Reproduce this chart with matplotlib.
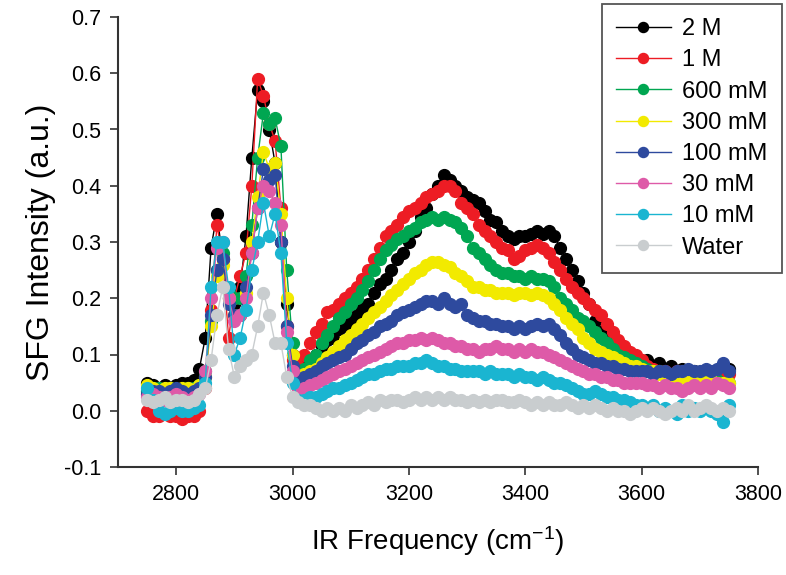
import numpy as np
import matplotlib
matplotlib.use("Agg")
import matplotlib.pyplot as plt
from matplotlib.ticker import FormatStrFormatter

plt.rcParams['font.family'] = ['Liberation Sans', 'DejaVu Sans']
plt.rcParams['mathtext.fontset'] = 'custom'
plt.rcParams['mathtext.rm'] = 'Liberation Sans'
plt.rcParams['mathtext.default'] = 'regular'
plt.rcParams['axes.unicode_minus'] = False

# IR frequency grid (cm-1), 10 cm-1 steps from 2750 to 3750
freq = np.arange(2750, 3751, 10)

# SFG intensities, 101 points each
y_2M = [
    0.05, 0.045, 0.04, 0.045, 0.04, 0.045, 0.05, 0.05, 0.055, 0.075,
    0.13, 0.29, 0.35, 0.27, 0.20, 0.19,
    0.22, 0.31, 0.45, 0.57, 0.55, 0.50, 0.44, 0.30, 0.19, 0.10,
    0.07, 0.08, 0.09, 0.10, 0.115, 0.125, 0.13, 0.145, 0.15, 0.16,
    0.17, 0.185, 0.19, 0.21, 0.225, 0.235, 0.25, 0.27, 0.28, 0.30,
    0.32, 0.345, 0.36, 0.385, 0.40, 0.42, 0.41, 0.40, 0.39, 0.38,
    0.375, 0.37, 0.355, 0.34, 0.335, 0.32, 0.31, 0.305, 0.31, 0.31,
    0.315, 0.32, 0.315, 0.32, 0.31, 0.29, 0.27, 0.25, 0.23, 0.21,
    0.19, 0.16, 0.14, 0.13, 0.12, 0.11, 0.10, 0.095, 0.09, 0.085,
    0.09, 0.08, 0.085, 0.075, 0.08, 0.07, 0.075, 0.07, 0.07, 0.065,
    0.07, 0.065, 0.07, 0.08, 0.075,
]
y_1M = [
    0.0, -0.01, -0.01, -0.005, -0.01, -0.01, -0.015, -0.01, -0.01, 0.0,
    0.04, 0.18, 0.33, 0.27, 0.13, 0.20,
    0.24, 0.28, 0.40, 0.59, 0.56, 0.51, 0.48, 0.36, 0.15, 0.09,
    0.08, 0.10, 0.12, 0.14, 0.155, 0.175, 0.18, 0.19, 0.20, 0.21,
    0.22, 0.235, 0.25, 0.27, 0.29, 0.31, 0.32, 0.33, 0.345, 0.355,
    0.36, 0.37, 0.38, 0.385, 0.39, 0.40, 0.40, 0.39, 0.37, 0.36,
    0.35, 0.33, 0.32, 0.31, 0.30, 0.29, 0.285, 0.27, 0.275, 0.285,
    0.29, 0.295, 0.29, 0.28, 0.265, 0.25, 0.235, 0.22, 0.21, 0.20,
    0.19, 0.18, 0.17, 0.155, 0.14, 0.125, 0.115, 0.105, 0.10, 0.09,
    0.08, 0.075, 0.07, 0.07, 0.065, 0.07, 0.065, 0.06, 0.065, 0.06,
    0.06, 0.055, 0.06, 0.06, 0.065,
]
y_600mM = [
    0.035, 0.04, 0.04, 0.035, 0.04, 0.035, 0.035, 0.04, 0.04, 0.045,
    0.07, 0.16, 0.25, 0.28, 0.21, 0.20,
    0.20, 0.24, 0.33, 0.45, 0.53, 0.51, 0.52, 0.47, 0.25, 0.12,
    0.06, 0.075, 0.09, 0.10, 0.12, 0.135, 0.15, 0.165, 0.175, 0.19,
    0.20, 0.215, 0.23, 0.25, 0.27, 0.285, 0.295, 0.305, 0.31, 0.32,
    0.325, 0.335, 0.34, 0.345, 0.34, 0.345, 0.34, 0.335, 0.325, 0.31,
    0.29, 0.28, 0.27, 0.26, 0.25, 0.245, 0.245, 0.24, 0.24, 0.235,
    0.24, 0.235, 0.235, 0.23, 0.22, 0.20, 0.19, 0.18, 0.165, 0.16,
    0.15, 0.14, 0.13, 0.12, 0.11, 0.10, 0.095, 0.09, 0.085, 0.08,
    0.075, 0.07, 0.07, 0.065, 0.065, 0.06, 0.06, 0.055, 0.06, 0.055,
    0.055, 0.05, 0.055, 0.05, 0.05,
]
y_300mM = [
    0.045, 0.04, 0.035, 0.04, 0.04, 0.035, 0.04, 0.04, 0.035, 0.045,
    0.06, 0.15, 0.24, 0.26, 0.20, 0.17,
    0.17, 0.21, 0.30, 0.38, 0.46, 0.43, 0.44, 0.35, 0.20, 0.10,
    0.06, 0.065, 0.07, 0.075, 0.085, 0.095, 0.105, 0.115, 0.125, 0.135,
    0.145, 0.155, 0.165, 0.175, 0.185, 0.195, 0.205, 0.215, 0.225, 0.235,
    0.245, 0.25, 0.26, 0.265, 0.265, 0.26, 0.255, 0.245, 0.24, 0.23,
    0.22, 0.22, 0.215, 0.215, 0.21, 0.21, 0.21, 0.205, 0.21, 0.21,
    0.205, 0.21, 0.205, 0.20, 0.19, 0.18, 0.165, 0.155, 0.145, 0.13,
    0.12, 0.11, 0.105, 0.10, 0.095, 0.09, 0.085, 0.08, 0.08, 0.075,
    0.07, 0.07, 0.065, 0.065, 0.06, 0.06, 0.06, 0.055, 0.055, 0.055,
    0.05, 0.055, 0.05, 0.05, 0.05,
]
y_100mM = [
    0.03, 0.035, 0.035, 0.03, 0.035, 0.04, 0.035, 0.03, 0.035, 0.04,
    0.06, 0.17, 0.25, 0.27, 0.19, 0.17,
    0.17, 0.22, 0.28, 0.36, 0.43, 0.41, 0.42, 0.30, 0.15, 0.08,
    0.055, 0.06, 0.065, 0.07, 0.08, 0.085, 0.09, 0.095, 0.10, 0.11,
    0.12, 0.125, 0.135, 0.14, 0.15, 0.155, 0.16, 0.17, 0.175, 0.18,
    0.185, 0.19, 0.195, 0.195, 0.19, 0.20, 0.19, 0.185, 0.19, 0.17,
    0.165, 0.16, 0.16, 0.155, 0.155, 0.15, 0.15, 0.145, 0.15, 0.145,
    0.15, 0.155, 0.15, 0.155, 0.145, 0.135, 0.12, 0.11, 0.10, 0.095,
    0.09, 0.085, 0.085, 0.08, 0.08, 0.075, 0.075, 0.07, 0.07, 0.07,
    0.07, 0.065, 0.07, 0.07, 0.065, 0.07, 0.07, 0.075, 0.07, 0.07,
    0.075, 0.07, 0.075, 0.085, 0.07,
]
y_30mM = [
    0.025, 0.03, 0.025, 0.02, 0.025, 0.03, 0.025, 0.02, 0.025, 0.03,
    0.07, 0.20, 0.29, 0.30, 0.20, 0.16,
    0.17, 0.20, 0.28, 0.36, 0.40, 0.39, 0.37, 0.33, 0.14, 0.07,
    0.035, 0.04, 0.045, 0.05, 0.055, 0.06, 0.065, 0.07, 0.075, 0.08,
    0.085, 0.09, 0.095, 0.10, 0.105, 0.11, 0.115, 0.12, 0.12, 0.125,
    0.125, 0.13, 0.125, 0.13, 0.125, 0.12, 0.12, 0.115, 0.115, 0.11,
    0.11, 0.105, 0.11, 0.11, 0.115, 0.11, 0.11, 0.105, 0.11, 0.105,
    0.11, 0.105, 0.105, 0.10, 0.095, 0.09, 0.085, 0.08, 0.075, 0.07,
    0.065, 0.065, 0.06, 0.06, 0.055, 0.055, 0.05, 0.05, 0.05, 0.05,
    0.045, 0.045, 0.04, 0.045, 0.04, 0.04, 0.035, 0.04, 0.045, 0.04,
    0.045, 0.04, 0.05, 0.045, 0.04,
]
y_10mM = [
    0.04, 0.02, 0.0, -0.005, 0.0, 0.005, 0.0, 0.0, 0.005, 0.01,
    0.05, 0.22, 0.30, 0.30, 0.22, 0.10,
    0.13, 0.18, 0.25, 0.30, 0.37, 0.31, 0.35, 0.28, 0.12, 0.05,
    0.02, 0.02, 0.025, 0.025, 0.03, 0.035, 0.04, 0.04, 0.045, 0.05,
    0.055, 0.06, 0.065, 0.065, 0.07, 0.075, 0.075, 0.08, 0.08, 0.08,
    0.085, 0.085, 0.09, 0.085, 0.08, 0.08, 0.075, 0.075, 0.07, 0.07,
    0.07, 0.07, 0.065, 0.07, 0.065, 0.065, 0.065, 0.06, 0.065, 0.06,
    0.06, 0.055, 0.06, 0.055, 0.05, 0.05, 0.045, 0.04, 0.035, 0.03,
    0.03, 0.035, 0.03, 0.025, 0.025, 0.02, 0.02, 0.015, 0.01, 0.01,
    0.005, 0.01, 0.0, 0.005, 0.0, -0.005, 0.01, 0.0, 0.005, 0.0,
    0.005, 0.0, -0.005, -0.02, 0.01,
]
y_water = [
    0.02, 0.015, 0.02, 0.025, 0.015, 0.02, 0.02, 0.015, 0.02, 0.03,
    0.04, 0.09, 0.17, 0.22, 0.11, 0.06,
    0.08, 0.09, 0.10, 0.15, 0.21, 0.17, 0.12, 0.12, 0.06, 0.025,
    0.015, 0.01, 0.01, 0.005, 0.0, 0.005, 0.0, 0.005, 0.0, 0.01,
    0.005, 0.01, 0.015, 0.01, 0.02, 0.015, 0.02, 0.02, 0.015, 0.02,
    0.025, 0.02, 0.025, 0.02, 0.025, 0.02, 0.025, 0.02, 0.02, 0.015,
    0.02, 0.015, 0.02, 0.015, 0.02, 0.02, 0.015, 0.015, 0.02, 0.015,
    0.01, 0.015, 0.01, 0.015, 0.01, 0.01, 0.015, 0.01, 0.005, 0.01,
    0.005, 0.01, 0.005, 0.0, 0.005, 0.0, 0.0, -0.005, 0.0, 0.005,
    0.0, 0.005, 0.0, -0.005, 0.0, 0.005, 0.0, 0.01, 0.0, 0.005,
    0.01, 0.005, 0.0, 0.005, 0.0,
]

labels = ["2 M", "1 M", "600 mM", "300 mM", "100 mM", "30 mM", "10 mM", "Water"]
series = [y_2M, y_1M, y_600mM, y_300mM, y_100mM, y_30mM, y_10mM, y_water]
colors = ["#000000", "#ED1C24", "#00A651", "#F2EA00",
          "#2E4A9E", "#DE5AA8", "#1AB5D1", "#C9CDCF"]

fig = plt.figure(figsize=(7.86, 5.75), dpi=100)
ax = fig.add_axes([118 / 786, 1 - 467 / 575, 640 / 786, 450 / 575])

for y, c, lab in zip(series, colors, labels):
    ax.plot(freq, y, color=c, lw=1.0, marker="o", ms=8.5,
            mec=c, mfc=c, label=lab)

ax.set_xlim(2700, 3800)
ax.set_ylim(-0.1, 0.7)
ax.set_xticks([2800, 3000, 3200, 3400, 3600, 3800])
ax.set_yticks(np.arange(-0.1, 0.71, 0.1))
ax.yaxis.set_major_formatter(FormatStrFormatter('%.1f'))
ax.tick_params(labelsize=15.5, direction="out", length=6, width=1.2,
               color="#333333", pad=6)

for s in ["top", "right"]:
    ax.spines[s].set_visible(False)
for s in ["left", "bottom"]:
    ax.spines[s].set_linewidth(1.5)
    ax.spines[s].set_color("#333333")

ax.set_xlabel("IR Frequency (cm$^{-1}$)", fontsize=20, labelpad=14)
ax.set_ylabel("SFG Intensity (a.u.)", fontsize=23, labelpad=6)

# legend sits partly outside the axes, in the top right corner of the figure
leg = fig.legend(loc="upper right", bbox_to_anchor=(782 / 786, 1 - 4 / 575),
                 borderaxespad=0, fontsize=17, frameon=True, fancybox=False,
                 framealpha=1, edgecolor="#555555", handlelength=2.3,
                 handletextpad=0.5, labelspacing=0.39, borderpad=0.6,
                 markerscale=0.85)
leg.get_frame().set_linewidth(1.3)

fig.savefig("out.png", dpi=100)
